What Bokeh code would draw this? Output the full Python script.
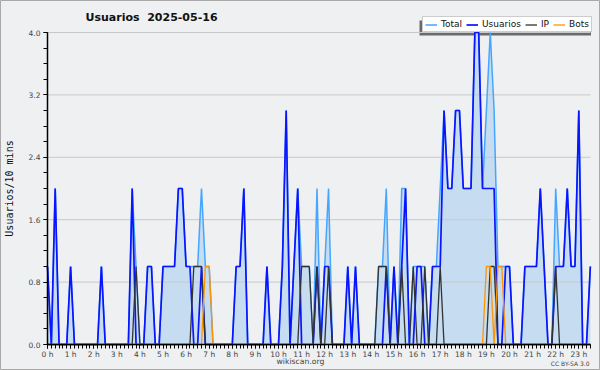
from bokeh.plotting import figure
from bokeh.models import Range1d, FixedTicker, Legend, LegendItem, Label, LinearAxis
from bokeh.embed import file_html
from bokeh.resources import INLINE

# ---- data (users per 10 minutes, 2025-05-16) ----
usuarios = [
    1, 0, 2, 0, 0, 0,   # 0 h
    1, 0, 0, 0, 0, 0,   # 1 h
    0, 0, 1, 0, 0, 0,   # 2 h
    0, 0, 0, 0, 2, 0,   # 3 h
    0, 0, 1, 1, 0, 0,   # 4 h
    1, 1, 1, 1, 2, 2,   # 5 h
    1, 1, 0, 0, 1, 0,   # 6 h
    0, 0, 0, 0, 0, 0,   # 7 h
    0, 1, 1, 2, 0, 0,   # 8 h
    0, 0, 0, 1, 0, 0,   # 9 h
    0, 1, 3, 0, 1, 2,   # 10 h
    0, 0, 0, 0, 1, 0,   # 11 h
    1, 1, 0, 0, 0, 0,   # 12 h
    1, 0, 1, 0, 0, 0,   # 13 h
    0, 0, 0, 0, 1, 0,   # 14 h
    1, 0, 1, 2, 0, 0,   # 15 h
    1, 1, 0, 0, 1, 1,   # 16 h
    1, 3, 2, 2, 3, 3,   # 17 h
    2, 2, 2, 4, 4, 2,   # 18 h
    2, 2, 2, 0, 0, 1,   # 19 h
    1, 0, 0, 0, 1, 1,   # 20 h
    1, 1, 2, 1, 0, 0,   # 21 h
    1, 1, 1, 2, 1, 1,   # 22 h
    3, 0, 0, 1,         # 23 h
]
ip = [
    0, 0, 0, 0, 0, 0,
    0, 0, 0, 0, 0, 0,
    0, 0, 0, 0, 0, 0,
    0, 0, 0, 0, 0, 1,
    0, 0, 0, 0, 0, 0,
    0, 0, 0, 0, 0, 0,
    0, 0, 1, 1, 1, 0,
    0, 0, 0, 0, 0, 0,
    0, 0, 0, 0, 0, 0,
    0, 0, 0, 0, 0, 0,
    0, 0, 0, 0, 0, 0,
    1, 1, 1, 0, 1, 0,
    0, 1, 0, 0, 0, 0,
    0, 0, 0, 0, 0, 0,
    0, 0, 1, 1, 1, 0,
    0, 0, 1, 0, 0, 1,
    0, 0, 1, 0, 0, 0,
    1, 0, 0, 0, 0, 0,
    0, 0, 0, 0, 0, 0,
    0, 1, 1, 0, 0, 0,
    0, 0, 0, 0, 0, 0,
    0, 0, 0, 0, 0, 0,
    1, 0, 0, 0, 0, 0,
    0, 0, 0, 0,
]
bots = [
    0, 0, 0, 0, 0, 0,
    0, 0, 0, 0, 0, 0,
    0, 0, 0, 0, 0, 0,
    0, 0, 0, 0, 0, 0,
    0, 0, 0, 0, 0, 0,
    0, 0, 0, 0, 0, 0,
    0, 0, 0, 0, 0, 1,
    1, 0, 0, 0, 0, 0,
    0, 0, 0, 0, 0, 0,
    0, 0, 0, 0, 0, 0,
    0, 0, 0, 0, 0, 0,
    0, 0, 0, 0, 0, 0,
    0, 0, 0, 0, 0, 0,
    0, 0, 0, 0, 0, 0,
    0, 0, 0, 0, 0, 0,
    0, 0, 0, 0, 0, 0,
    0, 0, 0, 0, 0, 0,
    0, 0, 0, 0, 0, 0,
    0, 0, 0, 0, 0, 0,
    1, 1, 0, 1, 1, 0,
    0, 0, 0, 0, 0, 0,
    0, 0, 0, 0, 0, 0,
    0, 0, 0, 0, 0, 0,
    0, 0, 0, 0,
]
total = [
    1, 0, 2, 0, 0, 0,
    1, 0, 0, 0, 0, 0,
    0, 0, 1, 0, 0, 0,
    0, 0, 0, 0, 2, 1,
    0, 0, 1, 1, 0, 0,
    1, 1, 1, 1, 2, 2,
    1, 1, 1, 1, 2, 1,
    1, 0, 0, 0, 0, 0,
    0, 1, 1, 2, 0, 0,
    0, 0, 0, 1, 0, 0,
    0, 1, 3, 0, 1, 2,
    1, 1, 1, 0, 2, 0,
    1, 2, 0, 0, 0, 0,
    1, 0, 1, 0, 0, 0,
    0, 0, 1, 1, 2, 0,
    1, 0, 2, 2, 0, 1,
    1, 1, 1, 0, 1, 1,
    2, 3, 2, 2, 3, 3,
    2, 2, 2, 4, 4, 2,
    3, 4, 3, 1, 1, 1,
    1, 0, 0, 0, 1, 1,
    1, 1, 2, 1, 0, 0,
    2, 1, 1, 2, 1, 1,
    3, 0, 0, 1,
]
hours = list(range(24))
hour_labels = [f"{h} h" for h in hours]
y_ticks = [0.0, 0.8, 1.6, 2.4, 3.2, 4.0]
y_tick_labels = ["0.0", "0.8", "1.6", "2.4", "3.2", "4.0"]
y_minor = [0.0, 0.2, 0.4, 0.6, 0.8, 1.0, 1.2, 1.4, 1.6, 1.8, 2.0, 2.2, 2.4,
           2.6, 2.8, 3.0, 3.2, 3.4, 3.6, 3.8, 4.0]
series_names = ["Total", "Usuarios", "IP", "Bots"]
title_text = "Usuarios\u00a0 2025-05-16"

n = len(total)
t = [i / 6 for i in range(n)]           # hours
minor_x = [i / 6 for i in range(n)]

BG = "#eef0f2"
C_FILL = "#c6dcf0"
C_TOTAL = "#45a5ff"
C_USR = "#0a14ff"
C_IP = "#333333"
C_BOTS = "#ff9400"

# canvas geometry: plot area from px 47..590 (x) and 32..344 (y)
PX_H = 23.1     # pixels per hour
PX_V = 78.0     # pixels per user
X0, Y0 = 47, 344
X_END = (590 - X0) / PX_H
def hx(px): return (px - X0) / PX_H
def vy(py): return (Y0 - py) / PX_V

p = figure(width=600, height=370, output_backend="svg", toolbar_location=None,
           title=None, x_axis_location=None, y_axis_location=None,
           x_range=Range1d(hx(0), hx(600)), y_range=Range1d(vy(370), vy(0)),
           min_border=0, min_border_left=0, min_border_right=0,
           min_border_top=0, min_border_bottom=0,
           background_fill_color=BG, border_fill_color=BG,
           outline_line_color="#a9a9a9", outline_line_width=1)
p.xgrid.visible = False
p.ygrid.visible = False

# legend shadow (under everything)
p.quad(left=[hx(419)], right=[hx(590.5)], top=[vy(20)], bottom=[vy(35)],
       fill_color="#6a6a6a", line_color=None)

r_fill = p.varea(x=t, y1=[0] * n, y2=total, fill_color=C_FILL)
# horizontal grid lines at the major y ticks
p.segment(x0=[0] * len(y_ticks), x1=[X_END] * len(y_ticks), y0=y_ticks, y1=y_ticks,
          line_color="#c8c9cc", line_width=1)
r_total = p.line(t, total, line_color=C_TOTAL, line_width=1.5)
r_usr = p.line(t, usuarios, line_color=C_USR, line_width=1.7)
r_ip = p.line(t, ip, line_color=C_IP, line_width=1.3)
r_bots = p.line(t, bots, line_color=C_BOTS, line_width=1.3)

# axes (fixed inside the canvas)
xa = LinearAxis(fixed_location=0, bounds=(0, X_END),
                ticker=FixedTicker(ticks=hours, minor_ticks=minor_x))
xa.major_label_overrides = {h: lab for h, lab in zip(hours, hour_labels)}
ya = LinearAxis(fixed_location=0, bounds=(0, 4),
                ticker=FixedTicker(ticks=y_ticks, minor_ticks=y_minor))
ya.major_label_overrides = {v: lab for v, lab in zip(y_ticks, y_tick_labels)}
for ax in (xa, ya):
    ax.axis_line_color = "black"
    ax.axis_line_width = 1.5
    ax.major_tick_line_color = "black"
    ax.minor_tick_line_color = "black"
    ax.major_tick_in = 0
    ax.minor_tick_in = 0
    ax.major_tick_out = 4
    ax.minor_tick_out = 4
    ax.major_label_text_font = "DejaVu Sans"
    ax.major_label_text_font_size = "7.5px"
    ax.major_label_text_color = "#444444"
xa.major_label_standoff = 1
ya.major_label_standoff = 3
ya.axis_label = "Usuarios/10 mins"
ya.axis_label_text_font = "DejaVu Sans Mono"
ya.axis_label_text_font_size = "10px"
ya.axis_label_text_font_style = "normal"
ya.axis_label_text_color = "#111111"
ya.axis_label_standoff = 11
p.add_layout(xa, "below")
p.add_layout(ya, "left")

# legend
legend = Legend(items=[LegendItem(label=series_names[0], renderers=[r_total]),
                       LegendItem(label=series_names[1], renderers=[r_usr]),
                       LegendItem(label=series_names[2], renderers=[r_ip]),
                       LegendItem(label=series_names[3], renderers=[r_bots])],
                location=(422, 370 - 32), orientation="horizontal",
                label_text_font="DejaVu Sans", label_text_font_size="9px",
                label_text_color="#111111",
                border_line_color="#999999", border_line_width=1,
                background_fill_color="white", background_fill_alpha=1,
                padding=2, spacing=4, margin=0, glyph_width=12, glyph_height=9,
                label_height=9, label_width=0, label_standoff=4)
p.add_layout(legend)

# texts
p.add_layout(Label(x=hx(85), y=vy(16.5), text=title_text,
                   text_font="DejaVu Sans", text_font_size="11px",
                   text_font_style="bold", text_baseline="middle",
                   text_align="left", text_color="#111111"))
p.add_layout(Label(x=hx(300), y=vy(361), text="wikiscan.org",
                   text_font="DejaVu Sans", text_font_size="7.7px",
                   text_baseline="middle", text_align="center",
                   text_color="#444444"))
p.add_layout(Label(x=hx(589), y=vy(363), text="CC BY-SA 3.0",
                   text_font="DejaVu Sans", text_font_size="6px",
                   text_baseline="middle", text_align="right",
                   text_color="#444444"))

open("out.html", "w").write(file_html(p, INLINE))
